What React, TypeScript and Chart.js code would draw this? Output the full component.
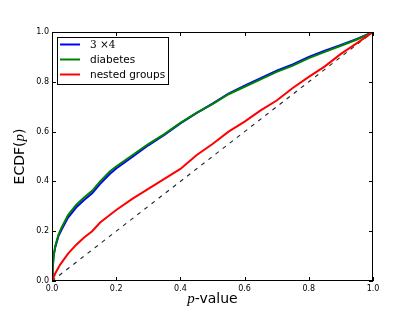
import React, { useEffect, useRef } from "react";
import { Chart, registerables } from "chart.js";
Chart.register(...registerables);

const seriesLabels = ["3 \u00d74", "diabetes", "nested groups"];
const seriesColors = ["#0000ff", "#008000", "#ff0000"];

const blueX = [0, 0.002, 0.005, 0.01, 0.02, 0.03, 0.05, 0.075, 0.1, 0.125, 0.15, 0.18, 0.2, 0.25, 0.3, 0.35, 0.4, 0.45, 0.5, 0.55, 0.6, 0.65, 0.7, 0.75, 0.8, 0.85, 0.9, 0.95, 1.0];
const blueY = [0, 0.05, 0.1, 0.135, 0.18, 0.207, 0.255, 0.295, 0.325, 0.352, 0.39, 0.43, 0.452, 0.498, 0.545, 0.587, 0.633, 0.674, 0.712, 0.753, 0.785, 0.815, 0.845, 0.87, 0.9, 0.925, 0.948, 0.972, 1.0];

const greenX = [0, 0.002, 0.005, 0.01, 0.02, 0.03, 0.05, 0.075, 0.1, 0.125, 0.15, 0.18, 0.2, 0.25, 0.3, 0.35, 0.4, 0.45, 0.5, 0.55, 0.6, 0.65, 0.7, 0.75, 0.8, 0.85, 0.9, 0.95, 1.0];
const greenY = [0, 0.05, 0.1, 0.14, 0.185, 0.215, 0.265, 0.305, 0.335, 0.362, 0.4, 0.44, 0.46, 0.505, 0.55, 0.59, 0.635, 0.675, 0.71, 0.75, 0.78, 0.81, 0.84, 0.865, 0.895, 0.92, 0.945, 0.97, 1.0];

const redX = [0, 0.005, 0.01, 0.025, 0.05, 0.075, 0.1, 0.125, 0.15, 0.2, 0.25, 0.3, 0.35, 0.4, 0.45, 0.5, 0.55, 0.6, 0.65, 0.7, 0.75, 0.8, 0.85, 0.9, 0.95, 1.0];
const redY = [0, 0.015, 0.03, 0.065, 0.11, 0.145, 0.175, 0.2, 0.235, 0.285, 0.33, 0.37, 0.41, 0.45, 0.505, 0.55, 0.6, 0.64, 0.685, 0.725, 0.775, 0.82, 0.862, 0.912, 0.955, 1.0];

const diagX = [0, 1];
const diagY = [0, 1];

const tickValues = [0, 0.2, 0.4, 0.6, 0.8, 1.0];

const pts = (xs: number[], ys: number[]) => xs.map((x, i) => ({ x, y: ys[i] }));

const framePlugin = {
  id: "frame",
  afterDraw(chart: any) {
    const { ctx, chartArea } = chart;
    const { left, right, top, bottom } = chartArea;
    const xs = chart.scales.x;
    const ys = chart.scales.y;
    ctx.save();
    ctx.strokeStyle = "#000";
    ctx.lineWidth = 1;
    ctx.strokeRect(left + 0.5, top + 0.5, right - left - 1, bottom - top - 1);
    ctx.beginPath();
    for (const v of tickValues) {
      const px = Math.round(xs.getPixelForValue(v)) + 0.5;
      ctx.moveTo(px, bottom);
      ctx.lineTo(px, bottom - 4);
      ctx.moveTo(px, top);
      ctx.lineTo(px, top + 4);
      const py = Math.round(ys.getPixelForValue(v)) + 0.5;
      ctx.moveTo(left, py);
      ctx.lineTo(left + 4, py);
      ctx.moveTo(right, py);
      ctx.lineTo(right - 4, py);
    }
    ctx.stroke();

    // legend
    const lx = 57, ly = 37, lw = 111, lh = 47;
    ctx.fillStyle = "#fff";
    ctx.fillRect(lx, ly, lw, lh);
    ctx.strokeRect(lx + 0.5, ly + 0.5, lw, lh);
    const rows = [44.5, 59.5, 74.5];
    ctx.textBaseline = "middle";
    ctx.textAlign = "left";
    seriesLabels.forEach((lab, i) => {
      ctx.strokeStyle = seriesColors[i];
      ctx.lineWidth = 2;
      ctx.beginPath();
      ctx.moveTo(60, rows[i]);
      ctx.lineTo(80, rows[i]);
      ctx.stroke();
      ctx.fillStyle = "#000";
      ctx.font = i === 0 ? "10.5px 'DejaVu Serif'" : "10.5px 'DejaVu Sans'";
      ctx.fillText(lab, 90, rows[i] + 0.5);
    });

    // axis titles
    ctx.fillStyle = "#000";
    ctx.textBaseline = "alphabetic";
    const xt1 = "p";
    const xt2 = "-value";
    ctx.font = "italic 15px 'Liberation Serif'";
    const w1 = ctx.measureText(xt1).width;
    ctx.font = "14px 'DejaVu Sans'";
    const w2 = ctx.measureText(xt2).width;
    const cx = (left + right) / 2;
    let sx = cx - (w1 + w2) / 2;
    ctx.font = "italic 15px 'Liberation Serif'";
    ctx.fillText(xt1, sx, 303);
    ctx.font = "14px 'DejaVu Sans'";
    ctx.fillText(xt2, sx + w1, 303);

    ctx.translate(24, (top + bottom) / 2);
    ctx.rotate(-Math.PI / 2);
    const a = "ECDF(", b = "p", c = ")";
    ctx.font = "14px 'DejaVu Sans'";
    const wa = ctx.measureText(a).width;
    const wc = ctx.measureText(c).width;
    ctx.font = "italic 15px 'Liberation Serif'";
    const wb = ctx.measureText(b).width;
    let s = -(wa + wb + wc) / 2;
    ctx.font = "14px 'DejaVu Sans'";
    ctx.fillText(a, s, 0);
    ctx.font = "italic 15px 'Liberation Serif'";
    ctx.fillText(b, s + wa, 0);
    ctx.font = "14px 'DejaVu Sans'";
    ctx.fillText(c, s + wa + wb, 0);
    ctx.restore();
  },
};

export default function App() {
  const ref = useRef<HTMLCanvasElement | null>(null);
  useEffect(() => {
    if (!ref.current) return;
    const chart = new Chart(ref.current, {
      type: "line",
      data: {
        datasets: [
          { label: seriesLabels[0], order: 3, data: pts(blueX, blueY), borderColor: seriesColors[0], borderWidth: 2, pointRadius: 0, fill: false, tension: 0 },
          { label: seriesLabels[1], order: 2, data: pts(greenX, greenY), borderColor: seriesColors[1], borderWidth: 2, pointRadius: 0, fill: false, tension: 0 },
          { label: seriesLabels[2], order: 1, data: pts(redX, redY), borderColor: seriesColors[2], borderWidth: 2, pointRadius: 0, fill: false, tension: 0 },
          { label: "diag", order: 4, data: pts(diagX, diagY), borderColor: "#222", borderWidth: 1.1, borderDash: [4, 5], pointRadius: 0, fill: false, tension: 0 },
        ],
      },
      options: {
        responsive: false,
        animation: false,
        layout: { padding: { left: 0, top: 32, right: 42, bottom: 0 } },
        plugins: { legend: { display: false }, tooltip: { enabled: false } },
        scales: {
          x: {
            type: "linear",
            min: 0,
            max: 1,
            afterFit: (s: any) => { s.height = 31; },
            afterBuildTicks: (s: any) => { s.ticks = tickValues.map((v) => ({ value: v })); },
            grid: { display: false, drawTicks: false },
            border: { display: false },
            ticks: { padding: 3, color: "#000", font: { family: "DejaVu Sans", size: 8 }, callback: (v: any) => Number(v).toFixed(1), maxRotation: 0, autoSkip: false },
          },
          y: {
            type: "linear",
            min: 0,
            max: 1,
            afterFit: (s: any) => { s.width = 52; },
            afterBuildTicks: (s: any) => { s.ticks = tickValues.map((v) => ({ value: v })); },
            grid: { display: false, drawTicks: false },
            border: { display: false },
            ticks: { padding: 3, color: "#000", font: { family: "DejaVu Sans", size: 8 }, callback: (v: any) => Number(v).toFixed(1), autoSkip: false },
          },
        },
      },
      plugins: [framePlugin],
    } as any);
    return () => chart.destroy();
  }, []);
  return (
    <div style={{ position: "absolute", left: 0, top: 0, width: 415, height: 312, background: "#fff" }}>
      <canvas ref={ref} width={415} height={312} style={{ width: 415, height: 312 }} />
    </div>
  );
}
